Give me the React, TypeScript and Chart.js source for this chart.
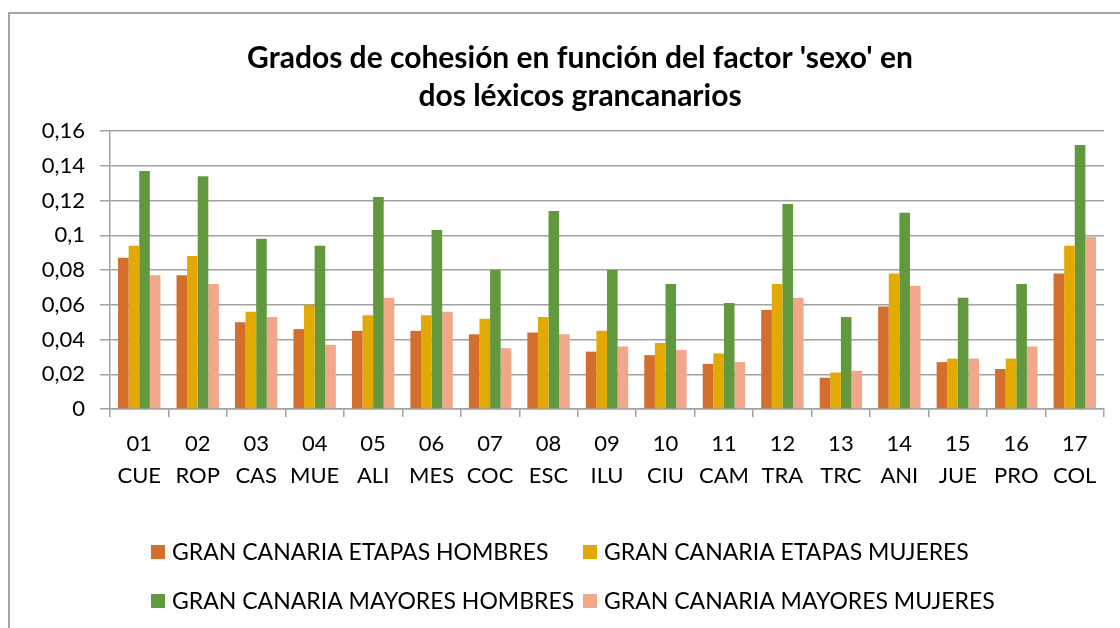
import React, { useEffect, useRef } from "react";
import { Chart, registerables } from "chart.js";

Chart.register(...registerables);

const categoryCodes = ["01", "02", "03", "04", "05", "06", "07", "08", "09", "10", "11", "12", "13", "14", "15", "16", "17"];
const categoryNames = ["CUE", "ROP", "CAS", "MUE", "ALI", "MES", "COC", "ESC", "ILU", "CIU", "CAM", "TRA", "TRC", "ANI", "JUE", "PRO", "COL"];

const etapasHombres = [0.087, 0.077, 0.05, 0.046, 0.045, 0.045, 0.043, 0.044, 0.033, 0.031, 0.026, 0.057, 0.018, 0.059, 0.027, 0.023, 0.078];
const etapasMujeres = [0.094, 0.088, 0.056, 0.06, 0.054, 0.054, 0.052, 0.053, 0.045, 0.038, 0.032, 0.072, 0.021, 0.078, 0.029, 0.029, 0.094];
const mayoresHombres = [0.137, 0.134, 0.098, 0.094, 0.122, 0.103, 0.08, 0.114, 0.08, 0.072, 0.061, 0.118, 0.053, 0.113, 0.064, 0.072, 0.152];
const mayoresMujeres = [0.077, 0.072, 0.053, 0.037, 0.064, 0.056, 0.035, 0.043, 0.036, 0.034, 0.027, 0.064, 0.022, 0.071, 0.029, 0.036, 0.099];

const seriesNames = [
  "GRAN CANARIA ETAPAS HOMBRES",
  "GRAN CANARIA ETAPAS MUJERES",
  "GRAN CANARIA MAYORES HOMBRES",
  "GRAN CANARIA MAYORES MUJERES",
];
const seriesColors = ["#D36E2C", "#E2AA00", "#62993E", "#F1A88A"];

const titleLines = ["Grados de cohesión en función del factor 'sexo' en", "dos léxicos grancanarios"];

const FONT = "Lato, 'Noto Sans', sans-serif";
const GRID = "#A2A2A2";

// Custom legend drawn on canvas in a 2x2 grid (Excel style)
const gridLegend = {
  id: "gridLegend",
  afterDraw(chart: any) {
    const ctx = chart.ctx;
    const colX = [141, 573];
    const rowY = [538, 587];
    ctx.save();
    ctx.font = `23px ${FONT}`;
    ctx.textBaseline = "middle";
    ctx.textAlign = "left";
    chart.data.datasets.forEach((ds: any, i: number) => {
      const x = colX[i % 2];
      const y = rowY[Math.floor(i / 2)];
      ctx.fillStyle = ds.backgroundColor;
      ctx.fillRect(x, y - 7, 14, 14);
      ctx.fillStyle = "#000";
      ctx.fillText(ds.label, x + 21, y + 1);
    });
    ctx.restore();
  },
};

export default function App() {
  const canvasRef = useRef<HTMLCanvasElement | null>(null);

  useEffect(() => {
    if (!canvasRef.current) return;
    const datasetsValues = [etapasHombres, etapasMujeres, mayoresHombres, mayoresMujeres];
    const chart = new Chart(canvasRef.current, {
      type: "bar",
      data: {
        labels: categoryCodes.map((c, i) => [c, categoryNames[i]]),
        datasets: datasetsValues.map((vals, i) => ({
          label: seriesNames[i],
          data: vals,
          backgroundColor: seriesColors[i],
          borderWidth: 0,
          categoryPercentage: 0.725,
          barPercentage: 1,
        })),
      },
      options: {
        responsive: false,
        animation: false,
        devicePixelRatio: 1,
        layout: { padding: { left: 0, right: 0, top: 0, bottom: 135 } },
        plugins: {
          legend: { display: false },
          tooltip: { enabled: false },
          title: {
            display: true,
            text: titleLines,
            color: "#000",
            font: { family: FONT, size: 30, weight: "bold", lineHeight: 38 / 30 },
            padding: { top: 25, bottom: 16 },
          },
        },
        scales: {
          x: {
            grid: {
              display: true,
              drawOnChartArea: false,
              drawTicks: true,
              tickLength: 8,
              color: GRID,
              lineWidth: 1.5,
              offset: true,
            },
            border: { display: true, color: GRID, width: 1.5 },
            ticks: {
              color: "#000",
              padding: 11,
              maxRotation: 0,
              autoSkip: false,
              font: { family: FONT, size: 22, lineHeight: 32 / 22 },
            },
            afterFit: (scale: any) => {
              scale.height = 90;
            },
          },
          y: {
            min: 0,
            max: 0.16,
            grid: {
              display: true,
              drawOnChartArea: true,
              drawTicks: true,
              tickLength: 10,
              color: GRID,
              lineWidth: 1.5,
            },
            border: { display: true, color: GRID, width: 1.5 },
            ticks: {
              stepSize: 0.02,
              color: "#000",
              padding: 15,
              font: { family: FONT, size: 22 },
              callback: (v: any) => String(Math.round(Number(v) * 100) / 100).replace(".", ","),
            },
            afterFit: (scale: any) => {
              scale.width = 100;
            },
          },
          yRight: {
            position: "right",
            display: true,
            min: 0,
            max: 0.16,
            grid: { display: false, drawOnChartArea: false, drawTicks: false },
            border: { display: false },
            ticks: { display: false },
            afterFit: (scale: any) => {
              scale.width = 46;
            },
          },
        },
      },
      plugins: [gridLegend],
    });
    return () => chart.destroy();
  }, []);

  return (
    <div
      style={{
        position: "absolute",
        left: 8,
        top: 12,
        width: 1112,
        height: 616,
        boxSizing: "border-box",
        borderLeft: "2px solid #A6A6A6",
        borderTop: "2px solid #A6A6A6",
        overflow: "hidden",
        background: "#fff",
      }}
    >
      <canvas ref={canvasRef} width={1140} height={620} style={{ display: "block" }} />
    </div>
  );
}
